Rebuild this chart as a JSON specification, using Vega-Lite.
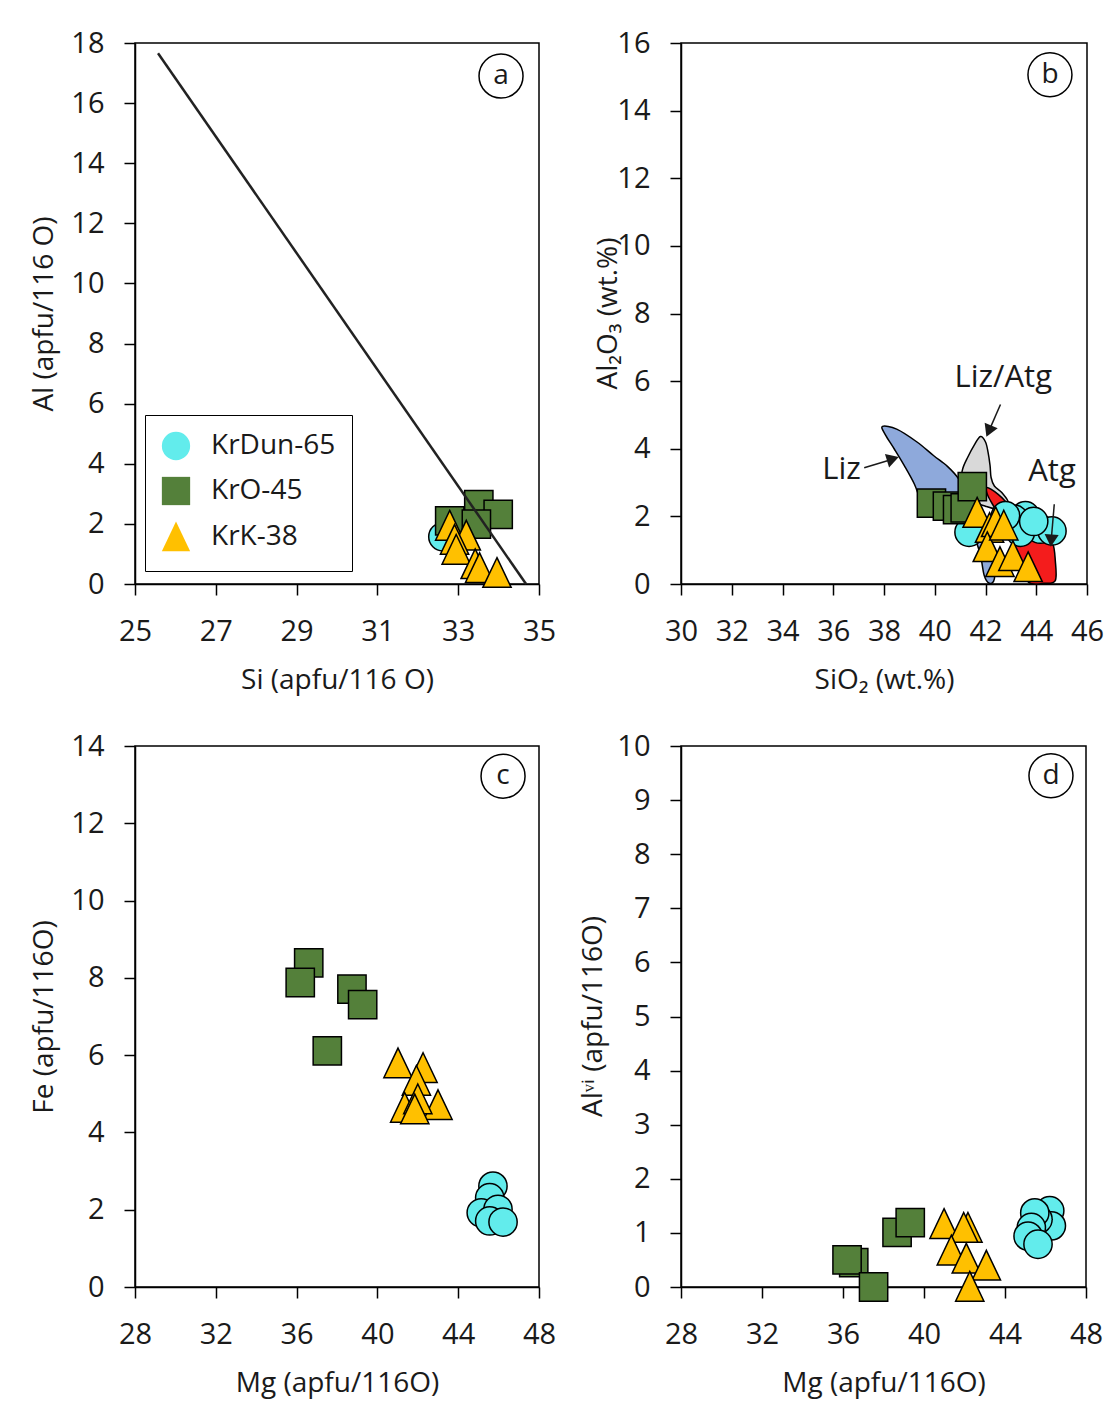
{
  "$schema": "https://vega.github.io/schema/vega-lite/v6.json",
  "background": "white",
  "padding": {"left": 30, "top": 28, "right": 10, "bottom": 5},
  "config": {
    "font": "Open Sans",
    "view": {"stroke": "black", "strokeWidth": 1.5},
    "axis": {"grid": false, "domainColor": "black", "domainWidth": 1.5, "tickColor": "black", "tickWidth": 1.5, "tickSize": 11, "labelFontSize": 29, "titleFontSize": 28, "labelColor": "#1a1a1a", "titleColor": "#1a1a1a", "titleFontWeight": "normal", "labelFont": "Open Sans", "titleFont": "Open Sans", "labelFlush": false, "labelOverlap": false},
    "axisX": {"labelPadding": 22, "titlePadding": 20},
    "axisY": {"labelPadding": 20, "titlePadding": 12}
  },
  "datasets": {
    "a_pts": [
      {"x": 32.62, "y": 1.57, "sample": "KrDun-65"},
      {"x": 33.51, "y": 2.64, "sample": "KrO-45"},
      {"x": 33.99, "y": 2.32, "sample": "KrO-45"},
      {"x": 32.79, "y": 2.10, "sample": "KrO-45"},
      {"x": 33.45, "y": 1.99, "sample": "KrO-45"},
      {"x": 32.79, "y": 1.93, "sample": "KrK-38"},
      {"x": 33.20, "y": 1.60, "sample": "KrK-38"},
      {"x": 32.91, "y": 1.46, "sample": "KrK-38"},
      {"x": 32.95, "y": 1.13, "sample": "KrK-38"},
      {"x": 33.42, "y": 0.65, "sample": "KrK-38"},
      {"x": 33.53, "y": 0.52, "sample": "KrK-38"},
      {"x": 33.96, "y": 0.36, "sample": "KrK-38"}
    ],
    "a_line": [
      {"x": 25.57, "y": 17.66},
      {"x": 34.68, "y": 0}
    ],
    "a_lab": [{"x": 34.06, "y": 16.9, "t": "a"}],
    "b_poly": [
      {"poly": "Liz", "o": 1, "x": 37.94, "y": 4.66},
      {"poly": "Liz", "o": 2, "x": 38.5, "y": 4.58},
      {"poly": "Liz", "o": 3, "x": 39.3, "y": 4.2},
      {"poly": "Liz", "o": 4, "x": 39.95, "y": 3.8},
      {"poly": "Liz", "o": 5, "x": 40.5, "y": 3.48},
      {"poly": "Liz", "o": 6, "x": 40.95, "y": 3.1},
      {"poly": "Liz", "o": 7, "x": 41.3, "y": 2.55},
      {"poly": "Liz", "o": 8, "x": 41.7, "y": 1.95},
      {"poly": "Liz", "o": 9, "x": 42.05, "y": 1.35},
      {"poly": "Liz", "o": 10, "x": 42.3, "y": 0.7},
      {"poly": "Liz", "o": 11, "x": 42.35, "y": 0.15},
      {"poly": "Liz", "o": 12, "x": 42.15, "y": 0.02},
      {"poly": "Liz", "o": 13, "x": 41.95, "y": 0.25},
      {"poly": "Liz", "o": 14, "x": 41.8, "y": 0.85},
      {"poly": "Liz", "o": 15, "x": 41.55, "y": 1.4},
      {"poly": "Liz", "o": 16, "x": 41.15, "y": 1.78},
      {"poly": "Liz", "o": 17, "x": 40.6, "y": 1.95},
      {"poly": "Liz", "o": 18, "x": 40.0, "y": 2.05},
      {"poly": "Liz", "o": 19, "x": 39.5, "y": 2.4},
      {"poly": "Liz", "o": 20, "x": 39.2, "y": 2.95},
      {"poly": "Liz", "o": 21, "x": 38.8, "y": 3.5},
      {"poly": "Liz", "o": 22, "x": 38.4, "y": 4.0},
      {"poly": "Liz", "o": 23, "x": 38.05, "y": 4.42},
      {"poly": "LizAtg", "o": 1, "x": 41.8, "y": 4.36},
      {"poly": "LizAtg", "o": 2, "x": 42.0, "y": 4.2},
      {"poly": "LizAtg", "o": 3, "x": 42.1, "y": 3.9},
      {"poly": "LizAtg", "o": 4, "x": 42.18, "y": 3.5},
      {"poly": "LizAtg", "o": 5, "x": 42.22, "y": 3.15},
      {"poly": "LizAtg", "o": 6, "x": 42.35, "y": 2.9},
      {"poly": "LizAtg", "o": 7, "x": 42.65, "y": 2.7},
      {"poly": "LizAtg", "o": 8, "x": 42.9, "y": 2.4},
      {"poly": "LizAtg", "o": 9, "x": 42.6, "y": 2.2},
      {"poly": "LizAtg", "o": 10, "x": 42.0, "y": 2.3},
      {"poly": "LizAtg", "o": 11, "x": 41.4, "y": 2.5},
      {"poly": "LizAtg", "o": 12, "x": 41.05, "y": 3.0},
      {"poly": "LizAtg", "o": 13, "x": 41.1, "y": 3.4},
      {"poly": "LizAtg", "o": 14, "x": 41.3, "y": 3.75},
      {"poly": "LizAtg", "o": 15, "x": 41.55, "y": 4.1},
      {"poly": "Atg", "o": 1, "x": 42.05, "y": 2.85},
      {"poly": "Atg", "o": 2, "x": 42.5, "y": 2.65},
      {"poly": "Atg", "o": 3, "x": 42.9, "y": 2.35},
      {"poly": "Atg", "o": 4, "x": 43.3, "y": 2.0},
      {"poly": "Atg", "o": 5, "x": 43.8, "y": 1.7},
      {"poly": "Atg", "o": 6, "x": 44.3, "y": 1.5},
      {"poly": "Atg", "o": 7, "x": 44.65, "y": 1.2},
      {"poly": "Atg", "o": 8, "x": 44.75, "y": 0.7},
      {"poly": "Atg", "o": 9, "x": 44.75, "y": 0.1},
      {"poly": "Atg", "o": 10, "x": 44.3, "y": 0.02},
      {"poly": "Atg", "o": 11, "x": 43.7, "y": 0.05},
      {"poly": "Atg", "o": 12, "x": 43.35, "y": 0.6},
      {"poly": "Atg", "o": 13, "x": 43.1, "y": 1.1},
      {"poly": "Atg", "o": 14, "x": 42.75, "y": 1.7},
      {"poly": "Atg", "o": 15, "x": 42.4, "y": 2.2},
      {"poly": "Atg", "o": 16, "x": 42.1, "y": 2.6}
    ],
    "b_pts": [
      {"x": 43.57, "y": 2.02, "sample": "KrDun-65"},
      {"x": 43.12, "y": 1.92, "sample": "KrDun-65"},
      {"x": 44.16, "y": 1.62, "sample": "KrDun-65"},
      {"x": 44.62, "y": 1.57, "sample": "KrDun-65"},
      {"x": 43.38, "y": 1.53, "sample": "KrDun-65"},
      {"x": 41.35, "y": 1.53, "sample": "KrDun-65"},
      {"x": 42.79, "y": 2.02, "sample": "KrDun-65"},
      {"x": 43.9, "y": 1.85, "sample": "KrDun-65"},
      {"x": 39.87, "y": 2.39, "sample": "KrO-45"},
      {"x": 40.5, "y": 2.3, "sample": "KrO-45"},
      {"x": 40.9, "y": 2.2, "sample": "KrO-45"},
      {"x": 41.2, "y": 2.25, "sample": "KrO-45"},
      {"x": 41.48, "y": 2.88, "sample": "KrO-45"},
      {"x": 41.67, "y": 2.1, "sample": "KrK-38"},
      {"x": 42.16, "y": 1.65, "sample": "KrK-38"},
      {"x": 42.4, "y": 1.82, "sample": "KrK-38"},
      {"x": 42.07, "y": 1.08, "sample": "KrK-38"},
      {"x": 42.57, "y": 0.64, "sample": "KrK-38"},
      {"x": 43.08, "y": 0.82, "sample": "KrK-38"},
      {"x": 43.68, "y": 0.49, "sample": "KrK-38"},
      {"x": 42.72, "y": 1.72, "sample": "KrK-38"}
    ],
    "b_arrows": [
      {"x": 37.22, "y": 3.44, "x2": 38.3, "y2": 3.68},
      {"x": 42.59, "y": 5.31, "x2": 42.15, "y2": 4.55},
      {"x": 44.71, "y": 2.36, "x2": 44.59, "y2": 1.3}
    ],
    "b_heads": [
      {"x": 38.35, "y": 3.7, "a": 73},
      {"x": 42.13, "y": 4.52, "a": 203},
      {"x": 44.59, "y": 1.28, "a": 184}
    ],
    "b_text": [
      {"x": 36.33, "y": 3.37, "t": "Liz"},
      {"x": 42.7, "y": 6.08, "t": "Liz/Atg"},
      {"x": 44.62, "y": 3.31, "t": "Atg"}
    ],
    "b_lab": [{"x": 44.54, "y": 15.06, "t": "b"}],
    "c_pts": [
      {"x": 45.72, "y": 2.61, "sample": "KrDun-65"},
      {"x": 45.56, "y": 2.31, "sample": "KrDun-65"},
      {"x": 45.14, "y": 1.92, "sample": "KrDun-65"},
      {"x": 45.97, "y": 2.01, "sample": "KrDun-65"},
      {"x": 45.56, "y": 1.71, "sample": "KrDun-65"},
      {"x": 46.22, "y": 1.68, "sample": "KrDun-65"},
      {"x": 36.6, "y": 8.39, "sample": "KrO-45"},
      {"x": 36.18, "y": 7.88, "sample": "KrO-45"},
      {"x": 38.74, "y": 7.71, "sample": "KrO-45"},
      {"x": 39.27, "y": 7.31, "sample": "KrO-45"},
      {"x": 37.52, "y": 6.11, "sample": "KrO-45"},
      {"x": 41.02, "y": 5.78, "sample": "KrK-38"},
      {"x": 42.26, "y": 5.66, "sample": "KrK-38"},
      {"x": 41.93, "y": 5.33, "sample": "KrK-38"},
      {"x": 43.0, "y": 4.7, "sample": "KrK-38"},
      {"x": 41.35, "y": 4.63, "sample": "KrK-38"},
      {"x": 42.0, "y": 4.85, "sample": "KrK-38"},
      {"x": 41.85, "y": 4.59, "sample": "KrK-38"}
    ],
    "c_lab": [{"x": 46.22, "y": 13.22, "t": "c"}],
    "d_pts": [
      {"x": 46.21, "y": 1.41, "sample": "KrDun-65"},
      {"x": 46.29, "y": 1.13, "sample": "KrDun-65"},
      {"x": 45.63, "y": 1.25, "sample": "KrDun-65"},
      {"x": 45.47, "y": 1.37, "sample": "KrDun-65"},
      {"x": 45.3, "y": 1.1, "sample": "KrDun-65"},
      {"x": 45.14, "y": 0.94, "sample": "KrDun-65"},
      {"x": 45.63, "y": 0.79, "sample": "KrDun-65"},
      {"x": 36.53, "y": 0.45, "sample": "KrO-45"},
      {"x": 36.2, "y": 0.5, "sample": "KrO-45"},
      {"x": 37.51, "y": 0.0, "sample": "KrO-45"},
      {"x": 38.67, "y": 1.01, "sample": "KrO-45"},
      {"x": 39.32, "y": 1.19, "sample": "KrO-45"},
      {"x": 40.99, "y": 1.16, "sample": "KrK-38"},
      {"x": 42.17, "y": 1.09, "sample": "KrK-38"},
      {"x": 41.96, "y": 1.09, "sample": "KrK-38"},
      {"x": 41.35, "y": 0.67, "sample": "KrK-38"},
      {"x": 42.09, "y": 0.52, "sample": "KrK-38"},
      {"x": 43.08, "y": 0.39, "sample": "KrK-38"},
      {"x": 42.26, "y": 0.0, "sample": "KrK-38"}
    ],
    "d_lab": [{"x": 46.27, "y": 9.45, "t": "d"}]
  },
  "columns": 2,
  "spacing": {"row": 162, "column": 142},
  "bounds": "flush",
  "resolve": {"scale": {"shape": "independent", "fill": "independent"}, "legend": {"shape": "independent", "fill": "independent"}},
  "concat": [
    {
      "width": 404, "height": 541,
      "encoding": {
        "x": {"field": "x", "type": "quantitative", "scale": {"domain": [25, 35], "nice": false, "zero": false}, "axis": {"title": "Si (apfu/116 O)", "values": [25, 27, 29, 31, 33, 35]}},
        "y": {"field": "y", "type": "quantitative", "scale": {"domain": [0, 18], "nice": false, "zero": false}, "axis": {"title": "Al (apfu/116 O)", "values": [0, 2, 4, 6, 8, 10, 12, 14, 16, 18]}}
      },
      "layer": [
        {
          "data": {"name": "a_pts"},
          "mark": {"type": "point", "filled": true, "stroke": "black", "strokeWidth": 1.5, "opacity": 1, "size": 800},
          "encoding": {
            "shape": {"field": "sample", "type": "nominal", "scale": {"domain": ["KrDun-65", "KrO-45", "KrK-38"], "range": ["circle", "square", "M0,-1.1L1,1L-1,1Z"]}, "legend": {"orient": "none", "legendX": 10, "legendY": 372, "title": null, "strokeColor": "black", "fillColor": "white", "padding": 16, "labelFontSize": 28, "labelFont": "Open Sans", "labelColor": "#1a1a1a", "symbolSize": 800, "symbolStrokeColor": "black", "symbolStrokeWidth": 1.5, "symbolOpacity": 1, "rowPadding": 9, "labelOffset": 20}},
            "fill": {"field": "sample", "type": "nominal", "scale": {"domain": ["KrDun-65", "KrO-45", "KrK-38"], "range": ["#62ecec", "#54803a", "#ffc000"]}, "legend": {"orient": "none", "legendX": 10, "legendY": 372, "title": null, "strokeColor": "black", "fillColor": "white", "padding": 16, "labelFontSize": 28, "labelFont": "Open Sans", "labelColor": "#1a1a1a", "symbolSize": 800, "symbolStrokeColor": "black", "symbolStrokeWidth": 1.5, "symbolOpacity": 1, "rowPadding": 9, "labelOffset": 20}}
          }
        },
        {
          "data": {"name": "a_line"},
          "mark": {"type": "line", "color": "#222222", "strokeWidth": 2.5},
          "encoding": {}
        },
        {
          "data": {"name": "a_lab"},
          "mark": {"type": "point", "shape": "circle", "size": 1936, "filled": true, "fill": "white", "stroke": "black", "strokeWidth": 1.5, "opacity": 1},
          "encoding": {}
        },
        {
          "data": {"name": "a_lab"},
          "mark": {"type": "text", "fontSize": 28, "font": "Open Sans", "color": "#1a1a1a", "baseline": "middle", "align": "center"},
          "encoding": {"text": {"field": "t", "type": "nominal"}}
        }
      ]
    },
    {
      "width": 406, "height": 541,
      "encoding": {
        "x": {"field": "x", "type": "quantitative", "scale": {"domain": [30, 46], "nice": false, "zero": false}, "axis": {"title": "SiO₂ (wt.%)", "values": [30, 32, 34, 36, 38, 40, 42, 44, 46]}},
        "y": {"field": "y", "type": "quantitative", "scale": {"domain": [0, 16], "nice": false, "zero": false}, "axis": {"title": "Al₂O₃ (wt.%)", "values": [0, 2, 4, 6, 8, 10, 12, 14, 16], "titleX": -73, "titleY": 270, "titleBaseline": "middle"}}
      },
      "layer": [
        {
          "data": {"name": "b_poly"},
          "transform": [{"filter": "datum.poly == 'Liz'"}],
          "mark": {"type": "line", "interpolate": "cardinal-closed", "fill": "#8ea9db", "stroke": "black", "strokeWidth": 1.5},
          "encoding": {"order": {"field": "o", "type": "quantitative"}}
        },
        {
          "data": {"name": "b_poly"},
          "transform": [{"filter": "datum.poly == 'LizAtg'"}],
          "mark": {"type": "line", "interpolate": "cardinal-closed", "fill": "#d9d9d9", "stroke": "black", "strokeWidth": 1.5},
          "encoding": {"order": {"field": "o", "type": "quantitative"}}
        },
        {
          "data": {"name": "b_poly"},
          "transform": [{"filter": "datum.poly == 'Atg'"}],
          "mark": {"type": "line", "interpolate": "cardinal-closed", "fill": "#f41c1c", "stroke": "black", "strokeWidth": 1.5},
          "encoding": {"order": {"field": "o", "type": "quantitative"}}
        },
        {
          "data": {"name": "b_pts"},
          "mark": {"type": "point", "filled": true, "stroke": "black", "strokeWidth": 1.5, "opacity": 1, "size": 800},
          "encoding": {
            "shape": {"field": "sample", "type": "nominal", "scale": {"domain": ["KrDun-65", "KrO-45", "KrK-38"], "range": ["circle", "square", "M0,-1.1L1,1L-1,1Z"]}, "legend": null},
            "fill": {"field": "sample", "type": "nominal", "scale": {"domain": ["KrDun-65", "KrO-45", "KrK-38"], "range": ["#62ecec", "#54803a", "#ffc000"]}, "legend": null}
          }
        },
        {
          "data": {"name": "b_arrows"},
          "mark": {"type": "rule", "color": "#1a1a1a", "strokeWidth": 1.5},
          "encoding": {"x2": {"field": "x2"}, "y2": {"field": "y2"}}
        },
        {
          "data": {"name": "b_heads"},
          "mark": {"type": "point", "shape": "triangle-up", "filled": true, "color": "#1a1a1a", "opacity": 1, "size": 200},
          "encoding": {"angle": {"field": "a", "type": "quantitative", "scale": null}}
        },
        {
          "data": {"name": "b_text"},
          "mark": {"type": "text", "fontSize": 31, "font": "Open Sans", "color": "#1a1a1a", "baseline": "middle", "align": "center"},
          "encoding": {"text": {"field": "t", "type": "nominal"}}
        },
        {
          "data": {"name": "b_lab"},
          "mark": {"type": "point", "shape": "circle", "size": 1936, "filled": true, "fill": "white", "stroke": "black", "strokeWidth": 1.5, "opacity": 1},
          "encoding": {}
        },
        {
          "data": {"name": "b_lab"},
          "mark": {"type": "text", "fontSize": 28, "font": "Open Sans", "color": "#1a1a1a", "baseline": "middle", "align": "center"},
          "encoding": {"text": {"field": "t", "type": "nominal"}}
        }
      ]
    },
    {
      "width": 404, "height": 541,
      "encoding": {
        "x": {"field": "x", "type": "quantitative", "scale": {"domain": [28, 48], "nice": false, "zero": false}, "axis": {"title": "Mg (apfu/116O)", "values": [28, 32, 36, 40, 44, 48]}},
        "y": {"field": "y", "type": "quantitative", "scale": {"domain": [0, 14], "nice": false, "zero": false}, "axis": {"title": "Fe (apfu/116O)", "values": [0, 2, 4, 6, 8, 10, 12, 14]}}
      },
      "layer": [
        {
          "data": {"name": "c_pts"},
          "mark": {"type": "point", "filled": true, "stroke": "black", "strokeWidth": 1.5, "opacity": 1, "size": 800},
          "encoding": {
            "shape": {"field": "sample", "type": "nominal", "scale": {"domain": ["KrDun-65", "KrO-45", "KrK-38"], "range": ["circle", "square", "M0,-1.1L1,1L-1,1Z"]}, "legend": null},
            "fill": {"field": "sample", "type": "nominal", "scale": {"domain": ["KrDun-65", "KrO-45", "KrK-38"], "range": ["#62ecec", "#54803a", "#ffc000"]}, "legend": null}
          }
        },
        {
          "data": {"name": "c_lab"},
          "mark": {"type": "point", "shape": "circle", "size": 1936, "filled": true, "fill": "white", "stroke": "black", "strokeWidth": 1.5, "opacity": 1},
          "encoding": {}
        },
        {
          "data": {"name": "c_lab"},
          "mark": {"type": "text", "fontSize": 28, "font": "Open Sans", "color": "#1a1a1a", "baseline": "middle", "align": "center"},
          "encoding": {"text": {"field": "t", "type": "nominal"}}
        }
      ]
    },
    {
      "width": 405, "height": 541,
      "encoding": {
        "x": {"field": "x", "type": "quantitative", "scale": {"domain": [28, 48], "nice": false, "zero": false}, "axis": {"title": "Mg (apfu/116O)", "values": [28, 32, 36, 40, 44, 48]}},
        "y": {"field": "y", "type": "quantitative", "scale": {"domain": [0, 10], "nice": false, "zero": false}, "axis": {"title": "Alᵛⁱ (apfu/116O)", "values": [0, 1, 2, 3, 4, 5, 6, 7, 8, 9, 10], "titleX": -88, "titleY": 270, "titleBaseline": "middle"}}
      },
      "layer": [
        {
          "data": {"name": "d_pts"},
          "mark": {"type": "point", "filled": true, "stroke": "black", "strokeWidth": 1.5, "opacity": 1, "size": 800},
          "encoding": {
            "shape": {"field": "sample", "type": "nominal", "scale": {"domain": ["KrDun-65", "KrO-45", "KrK-38"], "range": ["circle", "square", "M0,-1.1L1,1L-1,1Z"]}, "legend": null},
            "fill": {"field": "sample", "type": "nominal", "scale": {"domain": ["KrDun-65", "KrO-45", "KrK-38"], "range": ["#62ecec", "#54803a", "#ffc000"]}, "legend": null}
          }
        },
        {
          "data": {"name": "d_lab"},
          "mark": {"type": "point", "shape": "circle", "size": 1936, "filled": true, "fill": "white", "stroke": "black", "strokeWidth": 1.5, "opacity": 1},
          "encoding": {}
        },
        {
          "data": {"name": "d_lab"},
          "mark": {"type": "text", "fontSize": 28, "font": "Open Sans", "color": "#1a1a1a", "baseline": "middle", "align": "center"},
          "encoding": {"text": {"field": "t", "type": "nominal"}}
        }
      ]
    }
  ]
}
